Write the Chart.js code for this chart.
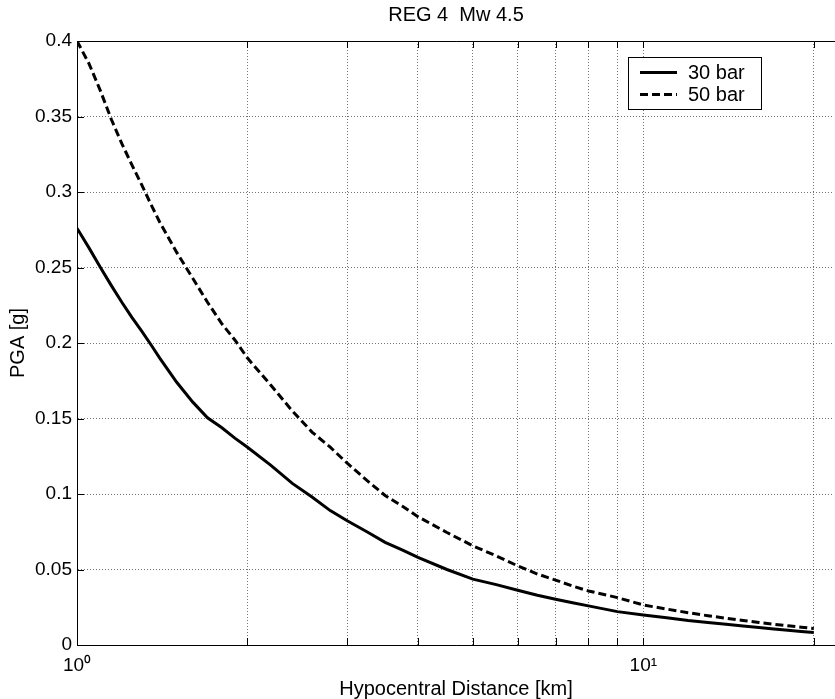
<!DOCTYPE html>
<html>
<head>
<meta charset="utf-8">
<style>
html,body{margin:0;padding:0;background:#fff;overflow:hidden;}
#wrap{width:835px;height:699px;}
</style>
<script src="https://cdn.jsdelivr.net/npm/chart.js@4"></script>
</head>
<body>
<div id="wrap"><canvas id="c" width="835" height="699"></canvas></div>
<script>
const chartTitle = 'REG 4  Mw 4.5';
const xTitle = 'Hypocentral Distance [km]';
const yTitle = 'PGA [g]';
const seriesLabels = ['30 bar', '50 bar'];

const distances = [1.0, 1.05, 1.1, 1.15, 1.2, 1.25, 1.3, 1.35, 1.4, 1.5, 1.6, 1.7, 1.8, 1.9, 2.0,
  2.2, 2.4, 2.6, 2.8, 3.0, 3.25, 3.5, 3.75, 4.0, 4.5, 5.0, 5.5, 6.0, 6.5, 7.0, 7.5, 8.0, 9.0,
  10, 11, 12, 13, 14, 15, 16, 17, 18, 19, 20];

const pga30 = [0.276, 0.263, 0.250, 0.238, 0.227, 0.217, 0.208, 0.199, 0.190, 0.174, 0.161, 0.1505, 0.144, 0.137, 0.131,
  0.119, 0.107, 0.098, 0.089, 0.0823, 0.075, 0.068, 0.063, 0.058, 0.050, 0.0436, 0.040, 0.0363, 0.033, 0.0303, 0.028, 0.0259, 0.0221,
  0.0199, 0.018, 0.0162, 0.0149, 0.0137, 0.0126, 0.0116, 0.0106, 0.0097, 0.0089, 0.0082];

const pga50 = [0.400, 0.385, 0.367, 0.348, 0.332, 0.318, 0.305, 0.292, 0.280, 0.260, 0.243, 0.227, 0.213, 0.202, 0.190,
  0.172, 0.155, 0.141, 0.131, 0.1204, 0.109, 0.099, 0.092, 0.085, 0.0745, 0.0657, 0.059, 0.0524, 0.047, 0.043, 0.039, 0.0358, 0.0314,
  0.0265, 0.0238, 0.0214, 0.0194, 0.0177, 0.0162, 0.0149, 0.0137, 0.0127, 0.0118, 0.011];

const xTickValues = [1, 2, 3, 4, 5, 6, 7, 8, 9, 10, 20];
const xTickLabels = {1: '10\u2070', 10: '10\u00B9'};
const yTickValues = [0, 0.05, 0.1, 0.15, 0.2, 0.25, 0.3, 0.35, 0.4];

const FONT = "'Liberation Sans', Arial, Helvetica, sans-serif";
const gridColor = 'rgba(0,0,0,0.55)';
const isXTick = v => xTickValues.some(t => Math.abs(t - v) < 1e-9);

const decor = {
  id: 'decor',
  afterDraw(chart) {
    const {ctx, chartArea: a, scales: {x, y}} = chart;
    ctx.save();
    // the axes box is cropped on the right in the reference: keep the right edge open
    ctx.fillStyle = '#fff';
    ctx.fillRect(Math.floor(a.right) - 2, Math.ceil(a.top) + 1, 4, Math.floor(a.bottom) - Math.ceil(a.top) - 1);

    ctx.strokeStyle = '#000';
    ctx.lineWidth = 1;
    ctx.setLineDash([]);
    ctx.beginPath();
    ctx.moveTo(a.left, a.top + 0.5);
    ctx.lineTo(a.right + 2, a.top + 0.5);
    y.ticks.forEach(t => {
      const py = Math.round(y.getPixelForValue(t.value)) + 0.5;
      ctx.moveTo(a.left, py); ctx.lineTo(a.left + 7, py);
    });
    x.ticks.filter(t => isXTick(t.value)).forEach(t => {
      const px = Math.round(x.getPixelForValue(t.value)) + 0.5;
      ctx.moveTo(px, a.bottom); ctx.lineTo(px, a.bottom - 7);
      ctx.moveTo(px, a.top); ctx.lineTo(px, a.top + 7);
    });
    ctx.stroke();

    const bx = 628.5, by = 57.5, bw = 133, bh = 52;
    ctx.fillStyle = '#fff';
    ctx.fillRect(bx, by, bw, bh);
    ctx.strokeRect(bx, by, bw, bh);
    const rows = [72.5, 94.5];
    chart.data.datasets.forEach((ds, i) => {
      ctx.save();
      ctx.lineWidth = ds.borderWidth;
      ctx.strokeStyle = ds.borderColor;
      ctx.setLineDash(ds.borderDash || []);
      ctx.beginPath();
      ctx.moveTo(640, rows[i]);
      ctx.lineTo(677, rows[i]);
      ctx.stroke();
      ctx.restore();
      ctx.fillStyle = '#000';
      ctx.font = '20px ' + FONT;
      ctx.textBaseline = 'middle';
      ctx.textAlign = 'left';
      ctx.fillText(ds.label, 688, rows[i] + 1);
    });
    ctx.restore();
  }
};

new Chart(document.getElementById('c'), {
  type: 'line',
  data: {
    datasets: [
      {
        label: seriesLabels[0],
        data: distances.map((d, i) => ({x: d, y: pga30[i]})),
        borderColor: '#000',
        borderWidth: 3,
        pointRadius: 0,
        tension: 0,
        fill: false
      },
      {
        label: seriesLabels[1],
        data: distances.map((d, i) => ({x: d, y: pga50[i]})),
        borderColor: '#000',
        borderWidth: 3,
        borderDash: [8, 4],
        pointRadius: 0,
        tension: 0,
        fill: false
      }
    ]
  },
  options: {
    responsive: false,
    animation: false,
    devicePixelRatio: 1,
    layout: {padding: {left: 0, right: 0, top: 0, bottom: 0}},
    plugins: {
      legend: {display: false},
      tooltip: {enabled: false},
      title: {
        display: true,
        text: chartTitle,
        fullSize: false,
        color: '#000',
        font: {family: FONT, size: 20, weight: 'normal', lineHeight: 1.2},
        padding: {top: 3, bottom: 14}
      }
    },
    scales: {
      x: {
        type: 'logarithmic',
        min: 1,
        max: 21.8,
        afterBuildTicks: s => { s.ticks = xTickValues.map(v => ({value: v, major: v === 1 || v === 10})); },
        afterFit: s => { s.height = 54; },
        ticks: {
          autoSkip: false,
          maxRotation: 0,
          padding: 9,
          color: '#000',
          font: {family: FONT, size: 19},
          callback: v => xTickLabels[v] || ''
        },
        grid: {
          color: c => (c.tick && isXTick(c.tick.value)) ? gridColor : 'rgba(0,0,0,0)',
          lineWidth: 1,
          drawTicks: false
        },
        border: {display: true, color: '#000', width: 1, dash: [1, 2]},
        title: {
          display: true,
          text: xTitle,
          color: '#000',
          font: {family: FONT, size: 20, lineHeight: 1},
          padding: {top: 0, bottom: 0}
        }
      },
      y: {
        type: 'linear',
        min: 0,
        max: 0.4,
        afterBuildTicks: s => { s.ticks = yTickValues.map(v => ({value: v})); },
        afterFit: s => { s.width = 77; },
        ticks: {
          padding: 5,
          color: '#000',
          font: {family: FONT, size: 19},
          callback: v => String(Number(v.toFixed(2)))
        },
        grid: {color: gridColor, lineWidth: 1, drawTicks: false},
        border: {display: true, color: '#000', width: 1, dash: [1, 2]},
        title: {
          display: true,
          text: yTitle,
          color: '#000',
          font: {family: FONT, size: 20, lineHeight: 1},
          padding: {top: 8, bottom: 0}
        }
      }
    }
  },
  plugins: [decor]
});
</script>
</body>
</html>
